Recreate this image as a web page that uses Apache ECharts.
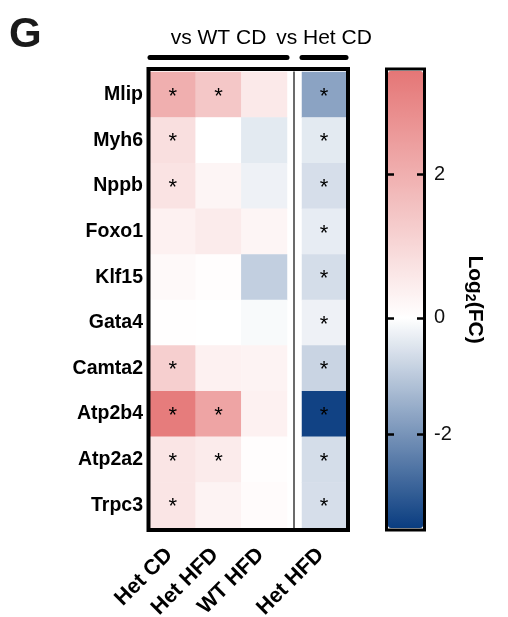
<!DOCTYPE html>
<html>
<head>
<meta charset="utf-8">
<script src="https://cdn.jsdelivr.net/npm/echarts@6/dist/echarts.min.js"></script>
<style>
  html, body { margin: 0; padding: 0; background: #fff; }
  #chart { width: 508px; height: 617px; }
</style>
</head>
<body>
<div id="chart"></div>
<script>
// Genes (rows, top to bottom) and comparison groups (columns)
const genes = ['Mlip', 'Myh6', 'Nppb', 'Foxo1', 'Klf15', 'Gata4', 'Camta2', 'Atp2b4', 'Atp2a2', 'Trpc3'];
const vsWtGroups = ['Het CD', 'Het HFD', 'WT HFD'];
const vsHetGroups = ['Het HFD'];

// log2 fold change, one value per gene
const hetCdVsWtCd   = [2.0, 0.8, 0.7, 0.35, 0.15, 0.03, 1.2, 3.3, 0.65, 0.65];
const hetHfdVsWtCd  = [1.4, 0.0, 0.25, 0.5, 0.05, 0.0, 0.35, 2.3, 0.5, 0.3];
const wtHfdVsWtCd   = [0.55, -0.4, -0.25, 0.25, -0.9, -0.1, 0.3, 0.35, 0.05, 0.08];
const hetHfdVsHetCd = [-1.7, -0.4, -0.6, -0.35, -0.62, -0.25, -0.8, -3.5, -0.62, -0.6];

// significance flags (1 = marked with *)
const sigHetCdVsWtCd   = [1, 1, 1, 0, 0, 0, 1, 1, 1, 1];
const sigHetHfdVsWtCd  = [1, 0, 0, 0, 0, 0, 0, 1, 1, 0];
const sigWtHfdVsWtCd   = [0, 0, 0, 0, 0, 0, 0, 0, 0, 0];
const sigHetHfdVsHetCd = [1, 1, 1, 1, 1, 1, 1, 1, 1, 1];

// colour bar ticks
const barTicks = [2, 0, -2];

// colour scale: ends of the bar and where zero sits (fraction from the bottom)
const scaleMax = 3.45;
const scaleMin = -3.6;
const zeroFrac = 0.46;
const redEnd = [229, 118, 118];
const blueEnd = [10, 61, 128];
const white = [255, 255, 255];

// position along the colour bar (0 = bottom, 1 = top) for a log2FC value
function barPos(v) {
  return v >= 0 ? zeroFrac + (1 - zeroFrac) * v / scaleMax
                : zeroFrac * (1 - v / scaleMin);
}
function mix(a, b, t) {
  return 'rgb(' + a.map((c, i) => Math.round(c + (b[i] - c) * t)).join(',') + ')';
}
const colourStops = [];
for (let i = 0; i <= 100; i++) {
  const u = i / 100;
  colourStops.push(u <= zeroFrac ? mix(blueEnd, white, u / zeroFrac)
                                 : mix(white, redEnd, (u - zeroFrac) / (1 - zeroFrac)));
}

function cells(columns, flags) {
  const out = [];
  columns.forEach((col, c) => {
    col.forEach((v, r) => out.push([c, r, barPos(v), flags[c][r], v]));
  });
  return out;
}
const vsWtCells = cells([hetCdVsWtCd, hetHfdVsWtCd, wtHfdVsWtCd],
                        [sigHetCdVsWtCd, sigHetHfdVsWtCd, sigWtHfdVsWtCd]);
const vsHetCells = cells([hetHfdVsHetCd], [sigHetHfdVsHetCd]);

const tickPositions = barTicks.map(barPos);
const tickLabel = {};
barTicks.forEach(t => { tickLabel[barPos(t).toFixed(6)] = String(t); });

const FONT = '"Liberation Sans", Arial, Helvetica, sans-serif';

const hiddenAxis = (gi) => ({ gridIndex: gi, show: false, type: 'value' });
const fixedGrid = (g) => Object.assign({ outerBoundsMode: 'none', containLabel: false }, g);

const bottomLabels = {
  rotate: 45, fontSize: 21.5, fontWeight: 'bold', color: '#000',
  margin: 20, padding: [0, 5, 0, 0], interval: 0
};
const starLabel = {
  show: true, fontSize: 22, color: '#000', offset: [0, 2],
  formatter: p => (p.data[3] ? '*' : '')
};
const barTick = {
  show: true, inside: true, length: 6, customValues: tickPositions,
  lineStyle: { color: '#000', width: 2.5 }
};

const option = {
  animation: false,
  textStyle: { fontFamily: FONT },
  title: {
    text: 'G', left: 9, top: 14, padding: 0,
    textStyle: { fontSize: 42, fontWeight: 'bold', color: '#1a1a1a', fontFamily: FONT }
  },
  grid: [
    fixedGrid({ left: 150, top: 72, width: 137, height: 456 }),
    fixedGrid({ left: 302, top: 72, width: 44, height: 456 }),
    fixedGrid({ left: 148.5, top: 69, width: 199.5, height: 461, show: true, z: 5,
      borderColor: '#000', borderWidth: 4, backgroundColor: 'transparent' }),
    fixedGrid({ left: 388, top: 71, width: 35, height: 457 }),
    fixedGrid({ left: 386.5, top: 69, width: 38, height: 461, show: true, z: 5,
      borderColor: '#000', borderWidth: 3, backgroundColor: 'transparent' })
  ],
  xAxis: [
    { gridIndex: 0, type: 'category', data: vsWtGroups, position: 'bottom',
      axisLine: { show: false }, axisTick: { show: false }, axisLabel: bottomLabels },
    { gridIndex: 0, type: 'category', data: vsWtGroups, position: 'top', offset: 15,
      axisLine: { show: true, lineStyle: { color: '#000', width: 5, cap: 'round' } },
      axisTick: { show: false }, axisLabel: { show: false },
      name: 'vs WT CD', nameLocation: 'middle', nameGap: 8,
      nameTextStyle: { fontSize: 21, color: '#000' } },
    { gridIndex: 1, type: 'category', data: vsHetGroups, position: 'bottom',
      axisLine: { show: false }, axisTick: { show: false }, axisLabel: bottomLabels },
    { gridIndex: 1, type: 'category', data: vsHetGroups, position: 'top', offset: 15,
      axisLine: { show: true, lineStyle: { color: '#000', width: 5, cap: 'round' } },
      axisTick: { show: false }, axisLabel: { show: false },
      name: 'vs Het CD', nameLocation: 'middle', nameGap: 8,
      nameTextStyle: { fontSize: 21, color: '#000' } },
    hiddenAxis(2), hiddenAxis(3), hiddenAxis(4)
  ],
  yAxis: [
    { gridIndex: 0, type: 'category', data: genes, inverse: true,
      axisLine: { show: false }, axisTick: { show: false },
      axisLabel: { fontSize: 19.5, fontWeight: 'bold', color: '#000', margin: 7 } },
    { gridIndex: 1, type: 'category', data: genes, inverse: true, offset: 8,
      axisLine: { show: true, lineStyle: { color: '#3a3a3a', width: 1.5 } },
      axisTick: { show: false }, axisLabel: { show: false } },
    hiddenAxis(2),
    { gridIndex: 3, type: 'value', min: 0, max: 1, position: 'left', z: 10,
      axisLine: { show: false }, splitLine: { show: false },
      axisTick: barTick, axisLabel: { show: false } },
    { gridIndex: 3, type: 'value', min: 0, max: 1, position: 'right', z: 10,
      axisLine: { show: false }, splitLine: { show: false },
      axisTick: barTick,
      axisLabel: { show: true, customValues: tickPositions, margin: 11,
                   fontSize: 20, color: '#111',
                   formatter: v => tickLabel[Number(v).toFixed(6)] || '' },
      name: '{a|Log}{s|2}{a|(FC)}', nameLocation: 'middle', nameRotate: -90, nameGap: 40,
      nameTextStyle: {
        rich: {
          a: { fontSize: 21, fontWeight: 'bold', color: '#000', fontFamily: FONT },
          s: { fontSize: 14, fontWeight: 'bold', color: '#000', fontFamily: FONT,
               padding: [10, 0, 0, 0] }
        }
      } },
    hiddenAxis(4)
  ],
  visualMap: {
    type: 'continuous', seriesIndex: [0, 1], dimension: 2,
    min: 0, max: 1, calculable: false, hoverLink: false, orient: 'vertical',
    left: 388, top: 71, itemWidth: 35, itemHeight: 457, padding: 0,
    inRange: { color: colourStops }
  },
  series: [
    { type: 'heatmap', xAxisIndex: 0, yAxisIndex: 0, data: vsWtCells,
      label: starLabel, emphasis: { disabled: true } },
    { type: 'heatmap', xAxisIndex: 2, yAxisIndex: 1, data: vsHetCells,
      label: starLabel, emphasis: { disabled: true } }
  ]
};

const chart = echarts.init(document.getElementById('chart'), null, { renderer: 'canvas' });
chart.setOption(option);
</script>
</body>
</html>
